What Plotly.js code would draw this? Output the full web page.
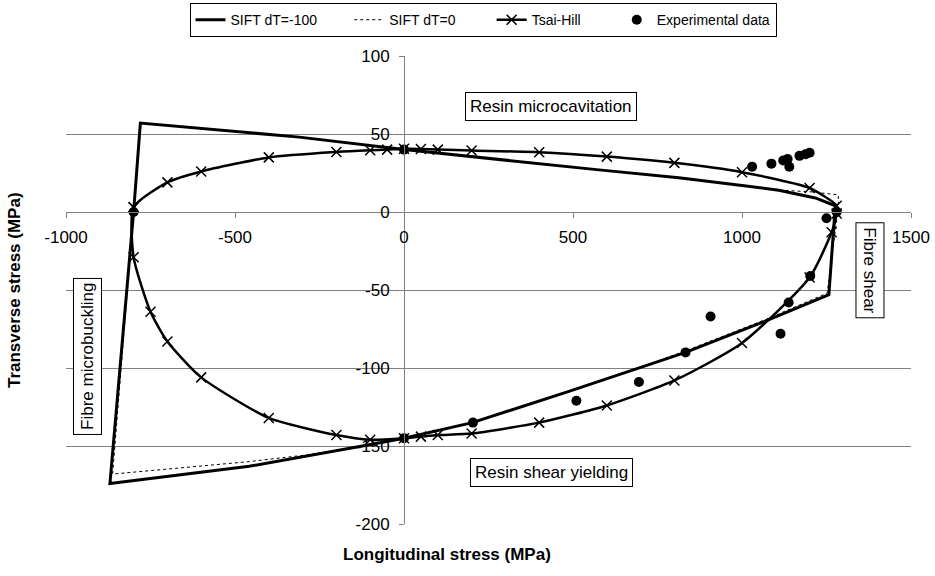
<!DOCTYPE html>
<html>
<head>
<meta charset="utf-8">
<script src="https://cdn.plot.ly/plotly-3.0.1.min.js"></script>
<style>html,body{margin:0;padding:0;background:#fff;}#chart{width:935px;height:576px;}</style>
</head>
<body>
<div id="chart"></div>
<script>
// SIFT dT=-100 envelope
const siftM100X = [-800,-780,-310,0,577,813,1000,1109,1217,1276,1257,1069,833,695,488,202,0,-123,-458,-870,-800];
const siftM100Y = [0,57,48,40,27,22,17,14,9,4,-53,-70,-90,-100,-115,-135,-145,-150,-163,-174,0];
// SIFT dT=0 envelope
const sift0X = [-800,-780,-310,0,577,813,1000,1109,1200,1285,1285,1252,1069,833,695,488,202,0,-123,-300,-458,-862,-800];
const sift0Y = [0,57,48,40,27,22,17,14,13,11,3,-52,-69,-89,-100,-115,-135,-145,-150,-156,-160,-168,0];
// Tsai-Hill
const tsaiX = [-800,-700,-600,-400,-200,-100,-50,0,50,100,200,400,600,800,1000,1200,1280,1280,1265,1200,1000,800,600,400,200,100,50,0,-100,-200,-400,-600,-700,-750,-800,-800];
const tsaiY = [3,19,26,35,38.5,39.6,40,40.5,40.4,40,39.4,38.3,35.5,31.5,25.5,15.4,4,-1,-13,-42,-84,-108,-124,-135,-142,-143,-144,-145,-146,-143,-132,-106,-83,-64,-29,3];
// Experimental data
const expX = [-800,0,0,1280,1030,1087,1122,1135,1140,1170,1188,1200,1250,1202,1138,907,1114,833,695,510,204];
const expY = [0,40,-145,0,29,31,33,34,29,36,37,38,-4,-41,-58,-67,-78,-90,-109,-121,-135];
// Tick values
const xTicks = [-1000,-500,0,500,1000,1500];
const yTicks = [-200,-150,-100,-50,0,50,100];
// Series names
const seriesNames = ['SIFT dT=-100', 'SIFT dT=0', 'Tsai-Hill', 'Experimental data'];

const FONT = 'Liberation Sans, Arial, sans-serif';
const pad = n => '\u00a0'.repeat(n);

const traces = [
  {x: siftM100X, y: siftM100Y, name: seriesNames[0] + pad(7), mode: 'lines', type: 'scatter',
   line: {color: '#000', width: 3}},
  {x: sift0X, y: sift0Y, name: seriesNames[1] + pad(8), mode: 'lines', type: 'scatter',
   line: {color: '#000', width: 1, dash: 'dot'}},
  {x: tsaiX, y: tsaiY, name: seriesNames[2] + pad(8), mode: 'lines+markers', type: 'scatter',
   line: {color: '#000', width: 2.5, shape: 'spline', smoothing: 0.6},
   marker: {symbol: 'x-thin-open', size: 10, color: '#000', line: {color: '#000', width: 1.5}}},
  {x: expX, y: expY, name: seriesNames[3], mode: 'markers', type: 'scatter',
   marker: {symbol: 'circle', size: 10, color: '#000'}}
];

const boxAnn = (text, x, y, angle) => ({
  text: text, xref: 'paper', yref: 'paper', x: x, y: y, xanchor: 'center', yanchor: 'middle',
  showarrow: false, textangle: angle, font: {family: FONT, size: 17, color: '#000'},
  bgcolor: '#fff', bordercolor: '#000', borderwidth: 1, borderpad: 4
});

const layout = {
  width: 935, height: 576,
  margin: {l: 66, r: 24, t: 56, b: 52, autoexpand: false},
  paper_bgcolor: '#fff', plot_bgcolor: '#fff',
  font: {family: FONT, color: '#000'},
  showlegend: true,
  legend: {orientation: 'h', x: 0.4935, xanchor: 'center', y: 1.113, yanchor: 'top',
    bordercolor: '#000', borderwidth: 1, font: {family: FONT, size: 14, color: '#000'},
    bgcolor: '#fff', tracegroupgap: 0},
  xaxis: {range: [-1000, 1500], tickvals: xTicks, ticktext: xTicks.map(String),
    showgrid: false, zeroline: false, showline: true, linecolor: '#808080', linewidth: 1,
    ticks: 'outside', ticklen: 5, tickcolor: '#808080', anchor: 'free', position: 2/3,
    ticklabelstandoff: 5, tickfont: {family: FONT, size: 17, color: '#000'}},
  yaxis: {range: [-200, 100], tickvals: yTicks, ticktext: yTicks.map(String),
    showgrid: true, gridcolor: '#808080', gridwidth: 1, zeroline: false,
    showline: true, linecolor: '#808080', linewidth: 1,
    ticks: 'outside', ticklen: 5, tickcolor: '#808080', anchor: 'free', position: 0.4,
    ticklabelstandoff: 6, tickfont: {family: FONT, size: 17, color: '#000'}},
  annotations: [
    boxAnn('Resin microcavitation', 0.574, 0.893, 0),
    boxAnn('Resin shear yielding', 0.574, 0.109, 0),
    boxAnn('Fibre microbuckling', 0.026, 0.359, -90),
    boxAnn('Fibre shear', 0.951, 0.543, 90),
    {text: '<b>Longitudinal stress (MPa)</b>', xref: 'paper', yref: 'paper', x: 0.451, y: -0.066,
     xanchor: 'center', yanchor: 'middle', showarrow: false, font: {family: FONT, size: 17, color: '#000'}},
    {text: '<b>Transverse stress (MPa)</b>', xref: 'paper', yref: 'paper', x: -0.0615, y: 0.5,
     xanchor: 'center', yanchor: 'middle', showarrow: false, textangle: -90, font: {family: FONT, size: 17, color: '#000'}}
  ]
};

Plotly.newPlot('chart', traces, layout, {staticPlot: true, displayModeBar: false});
</script>
</body>
</html>
